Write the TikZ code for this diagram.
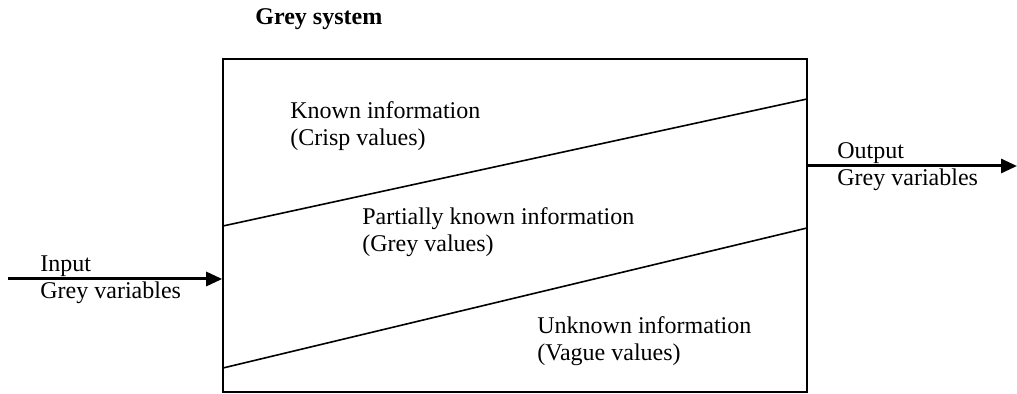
\documentclass[tikz,border=0pt]{standalone}
\usepackage{fontspec}
\setmainfont{Liberation Serif}
\usetikzlibrary{arrows.meta,positioning}

\begin{document}
\begin{tikzpicture}[
  x=0.5pt, y=-0.5pt,
  every node/.style={font=\fontsize{12}{13.5}\selectfont},
  txt/.style={anchor=west, align=left, inner sep=0pt},
  sysbox/.style={draw, line width=0.8pt, minimum width=292pt, minimum height=166.5pt, inner sep=0pt},
  arrow/.style={-{Triangle[length=8pt,width=7pt]}, line width=1.5pt}
]
  \useasboundingbox (0,0) rectangle (1017,394);

  % the system box
  \node[sysbox] (sys) at (515,225.5) {};
  \node[txt, font=\fontsize{12}{13}\selectfont\bfseries] (title) at (255,19) {Grey system};

  % slanted borders between the three zones
  \coordinate (upl) at (223,226);
  \coordinate (upr) at (807,99);
  \coordinate (lol) at (223,368);
  \coordinate (lor) at (807,228);
  \draw[line width=0.8pt] (upl) -- (upr);
  \draw[line width=0.8pt] (lol) -- (lor);

  % zone texts
  \node[txt] (known) at (290,126.5) {Known information\\(Crisp values)};
  \node[txt] (partial) at (362,232) {Partially known information\\(Grey values)};
  \node[txt] (unknown) at (537,341) {Unknown information\\(Vague values)};

  % input and output
  \coordinate (in) at (8,279);
  \coordinate (out) at (1017,166);
  \draw[arrow] (in) -- (sys.west |- in);
  \draw[arrow] (sys.east |- out) -- (out);
  \node[txt, anchor=south west, inner sep=1pt] (inlab) at (38,279) {Input};
  \node[txt, anchor=north west, inner sep=1pt] (invar) at (38,279) {Grey variables};
  \node[txt, anchor=south west, inner sep=1pt] (outlab) at (835,166) {Output};
  \node[txt, anchor=north west, inner sep=1pt] (outvar) at (835,166) {Grey variables};
\end{tikzpicture}
\end{document}
